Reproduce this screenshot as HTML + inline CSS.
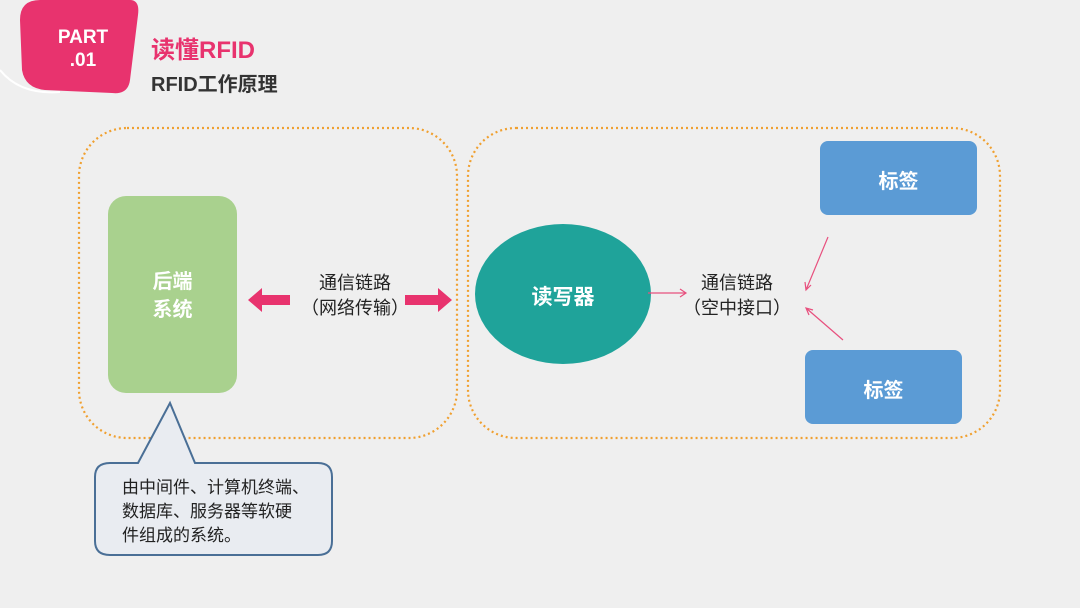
<!DOCTYPE html>
<html><head><meta charset="utf-8"><style>
body{margin:0;width:1080px;height:608px;background:#efefef;overflow:hidden;position:relative;font-family:"Liberation Sans","Noto Sans CJK SC",sans-serif}
.a{position:absolute}
</style></head><body>
<svg class="a" style="left:0;top:0" width="1080" height="608">
<path d="M0,70 Q20,95 60,92" stroke="#fff" stroke-width="2" fill="none"/>
<path d="M40,0 L130,0 Q140,0 138,15 L130,80 Q128,95 112,93 L45,90 Q25,88 22,70 L20,20 Q20,0 40,0Z" fill="#e8336e"/>
<rect x="79" y="128" width="378" height="310" rx="48" fill="none" stroke="#f0a030" stroke-width="2.2" stroke-dasharray="2 3"/>
<rect x="468" y="128" width="532" height="310" rx="48" fill="none" stroke="#f0a030" stroke-width="2.2" stroke-dasharray="2 3"/>
<rect x="108" y="196" width="129" height="197" rx="18" fill="#a9d18e"/>
<ellipse cx="563" cy="294" rx="88" ry="70" fill="#1fa39a"/>
<rect x="820" y="141" width="157" height="74" rx="8" fill="#5b9bd5"/>
<rect x="805" y="350" width="157" height="74" rx="8" fill="#5b9bd5"/>
<path d="M248,300 L262,288 L262,295 L290,295 L290,305 L262,305 L262,312Z" fill="#e8336e"/>
<path d="M452,300 L438,288 L438,295 L405,295 L405,305 L438,305 L438,312Z" fill="#e8336e"/>
<g stroke="#e8507e" stroke-width="1.2" fill="none">
<path d="M648,293 L686,293 M680,289 L686,293 L680,297"/>
<path d="M828,237 L806,290 M805,282 L806,290 L811,285"/>
<path d="M843,340 L806,308 M809,315 L806,308 L813,310"/>
</g>
<path d="M110,463 L138,463 L170,403 L195,463 L318,463 Q332,463 332,477 L332,541 Q332,555 318,555 L110,555 Q95,555 95,541 L95,477 Q95,463 110,463Z" fill="#e9ecf1" stroke="#4a6f96" stroke-width="2"/>
</svg>
<div class="a" style="left:28px;top:26px;width:110px;text-align:center;color:#fff;font-weight:bold;font-size:19px;line-height:23px">PART<br>.01</div>
<div class="a" style="left:151px;top:30px;color:#e8336e;font-weight:bold;font-size:24px">读懂RFID</div>
<div class="a" style="left:151px;top:68px;color:#333;font-weight:bold;font-size:20px">RFID工作原理</div>
<div class="a" style="left:108px;top:268px;width:129px;text-align:center;color:#fff;font-weight:bold;font-size:20px;line-height:28px">后端<br>系统</div>
<div class="a" style="left:285px;top:271px;width:140px;text-align:center;color:#222;font-size:18px;line-height:25px">通信链路<br>（网络传输）</div>
<div class="a" style="left:475px;top:281px;width:176px;text-align:center;color:#fff;font-weight:bold;font-size:21px">读写器</div>
<div class="a" style="left:667px;top:271px;width:140px;text-align:center;color:#222;font-size:18px;line-height:25px">通信链路<br>（空中接口）</div>
<div class="a" style="left:820px;top:165px;width:157px;text-align:center;color:#fff;font-weight:bold;font-size:20px">标签</div>
<div class="a" style="left:805px;top:374px;width:157px;text-align:center;color:#fff;font-weight:bold;font-size:20px">标签</div>
<div class="a" style="left:122px;top:476px;width:220px;white-space:nowrap;color:#222;font-size:17px;line-height:24px">由中间件、计算机终端、<br>数据库、服务器等软硬<br>件组成的系统。</div>
</body></html>
